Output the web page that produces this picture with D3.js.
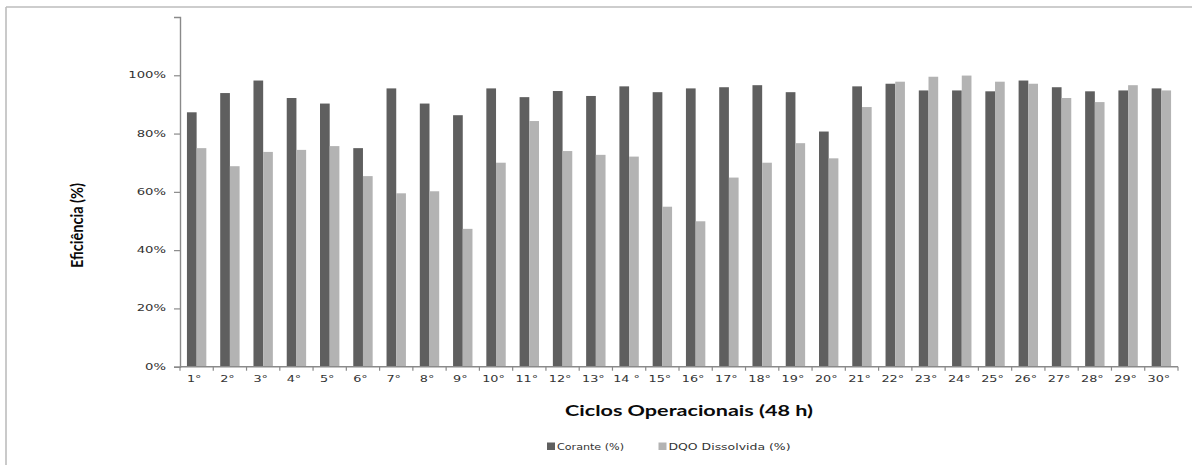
<!DOCTYPE html>
<html>
<head>
<meta charset="utf-8">
<script src="https://cdn.jsdelivr.net/npm/d3@7"></script>
<style>
  html, body { margin: 0; padding: 0; background: #fff; }
  svg { display: block; }
</style>
</head>
<body>
<svg id="chart" width="1192" height="465"></svg>
<script>
// Operational cycles (48 h each)
const ciclos = ["1°","2°","3°","4°","5°","6°","7°","8°","9°","10°",
                "11°","12°","13°","14 °","15°","16°","17°","18°","19°","20°",
                "21°","22°","23°","24°","25°","26°","27°","28°","29°","30°"];

// Removal efficiency (%) per cycle
const corante = [87.3, 93.9, 98.2, 92.2, 90.3, 75.0, 95.5, 90.3, 86.3, 95.5,
                 92.5, 94.6, 92.9, 96.2, 94.2, 95.5, 95.9, 96.6, 94.2, 80.7,
                 96.2, 97.1, 94.8, 94.8, 94.5, 98.2, 95.9, 94.5, 94.8, 95.5];
const dqoDissolvida = [75.0, 68.8, 73.7, 74.4, 75.7, 65.4, 59.5, 60.2, 47.3, 70.0,
                       84.3, 74.0, 72.7, 72.1, 54.9, 49.9, 64.9, 70.0, 76.7, 71.5,
                       89.1, 97.8, 99.5, 99.9, 97.8, 97.1, 92.2, 90.8, 96.6, 94.8];

const seriesNames = ["Corante (%)", "DQO Dissolvida (%)"];
const seriesColors = ["#5f5f5f", "#b3b3b3"];
const yTicks = [0, 20, 40, 60, 80, 100];

const rows = ciclos.map((c, i) => ({ ciclo: c, values: [corante[i], dqoDissolvida[i]] }));

const svg = d3.select("#chart");
const plotLeft = 180, plotRight = 1178, plotTop = 17, plotBottom = 366.7;

// Outer frame (top and left edges)
svg.append("line").attr("x1", 6).attr("y1", 7).attr("x2", 1192).attr("y2", 7)
  .attr("stroke", "#bdbdbd").attr("stroke-width", 1.6);
svg.append("line").attr("x1", 6).attr("y1", 7).attr("x2", 6).attr("y2", 465)
  .attr("stroke", "#bdbdbd").attr("stroke-width", 1.6);

const x = d3.scaleBand().domain(ciclos).range([plotLeft, plotRight])
  .paddingInner(0.417).paddingOuter(0.2085);
const xSeries = d3.scaleBand().domain([0, 1]).range([0, x.bandwidth()]);
const y = d3.scaleLinear().domain([0, 120]).range([plotBottom, plotTop]);

// Bars
const groups = svg.append("g").selectAll("g").data(rows).join("g")
  .attr("transform", d => `translate(${x(d.ciclo)},0)`);
groups.selectAll("rect").data(d => d.values.map((v, k) => ({ v, k }))).join("rect")
  .attr("x", d => xSeries(d.k))
  .attr("width", xSeries.bandwidth())
  .attr("y", d => y(d.v))
  .attr("height", d => y(0) - y(d.v))
  .attr("fill", d => seriesColors[d.k]);

const axisColor = "#8a8a8a";
const labelFont = "'DejaVu Sans', Verdana, sans-serif";

// Y axis
const yAxis = svg.append("g").attr("transform", `translate(${plotLeft},0)`)
  .call(d3.axisLeft(y).tickValues(yTicks).tickSize(6).tickFormat(""));
yAxis.select(".domain").attr("stroke", axisColor).attr("stroke-width", 1.4);
yAxis.selectAll(".tick line").attr("stroke", axisColor).attr("stroke-width", 1.2);

svg.append("g").selectAll("text").data(yTicks).join("text")
  .attr("transform", d => `translate(166,${y(d) + 3}) scale(1.65,1)`)
  .attr("text-anchor", "end")
  .attr("font-family", labelFont).attr("font-size", 8)
  .attr("fill", "#333")
  .text(d => d + "%");

// X axis with ticks on category boundaries
const xAxisG = svg.append("g");
xAxisG.append("line").attr("x1", plotLeft).attr("x2", plotRight)
  .attr("y1", plotBottom).attr("y2", plotBottom)
  .attr("stroke", axisColor).attr("stroke-width", 1.4);
const boundaries = ciclos.map(c => x(c) - x.step() * x.paddingOuter()).concat([plotRight]);
xAxisG.selectAll("line.tk").data(boundaries).join("line").attr("class", "tk")
  .attr("x1", d => d).attr("x2", d => d)
  .attr("y1", plotBottom).attr("y2", plotBottom + 4)
  .attr("stroke", axisColor).attr("stroke-width", 1.2);

svg.append("g").selectAll("text").data(ciclos).join("text")
  .attr("transform", d => `translate(${x(d) + x.bandwidth() / 2 - 2.5},381.5) scale(1.6,1)`)
  .attr("text-anchor", "middle")
  .attr("font-family", labelFont).attr("font-size", 8)
  .attr("fill", "#333")
  .text(d => d);

// Axis titles
svg.append("text")
  .attr("x", 689).attr("y", 415.7)
  .attr("text-anchor", "middle")
  .attr("font-family", "Lato, 'Open Sans', sans-serif")
  .attr("font-weight", "bold").attr("font-size", 15)
  .attr("fill", "#0a0a0a")
  .attr("textLength", 248).attr("lengthAdjust", "spacingAndGlyphs")
  .text("Ciclos Operacionais (48 h)");

svg.append("text")
  .attr("transform", "translate(83,225.5) scale(1.45,1) rotate(-90)")
  .attr("text-anchor", "middle")
  .attr("font-family", "Lato, 'Open Sans', sans-serif")
  .attr("font-weight", "bold").attr("font-size", 12)
  .attr("fill", "#0a0a0a")
  .attr("textLength", 85).attr("lengthAdjust", "spacingAndGlyphs")
  .text("Eficiência (%)");

// Legend
const legendItems = [
  { name: seriesNames[0], color: seriesColors[0], sx: 547, tx: 557, w: 67 },
  { name: seriesNames[1], color: seriesColors[1], sx: 658.5, tx: 668.5, w: 122 }
];
const lg = svg.append("g").selectAll("g").data(legendItems).join("g");
lg.append("rect")
  .attr("x", d => d.sx).attr("y", 442.5).attr("width", 8).attr("height", 7.5)
  .attr("fill", d => d.color);
lg.append("text")
  .attr("x", d => d.tx).attr("y", 449.5)
  .attr("font-family", labelFont).attr("font-size", 8)
  .attr("fill", "#333")
  .attr("textLength", d => d.w).attr("lengthAdjust", "spacingAndGlyphs")
  .text(d => d.name);
</script>
</body>
</html>
